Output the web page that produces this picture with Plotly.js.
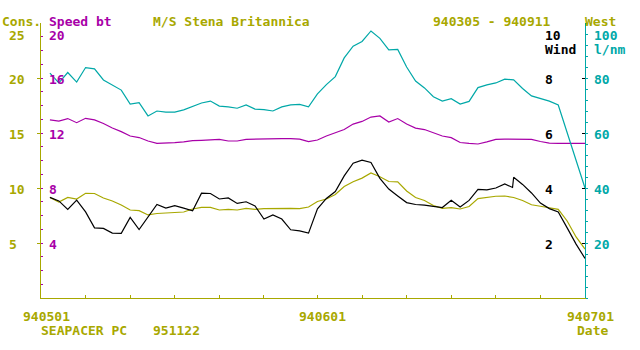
<!DOCTYPE html>
<html>
<head>
<meta charset="utf-8">
<script src="https://cdn.plot.ly/plotly-3.0.1.min.js"></script>
<style>html,body{margin:0;padding:0;background:#fff;}#chart{width:640px;height:350px;}</style>
</head>
<body>
<div id="chart"></div>
<script>
// ---- data ----
const dates = [
 '1994-05-02','1994-05-03','1994-05-04','1994-05-05','1994-05-06','1994-05-07','1994-05-08','1994-05-09','1994-05-10','1994-05-11',
 '1994-05-12','1994-05-13','1994-05-14','1994-05-15','1994-05-16','1994-05-17','1994-05-18','1994-05-19','1994-05-20','1994-05-21',
 '1994-05-22','1994-05-23','1994-05-24','1994-05-25','1994-05-26','1994-05-27','1994-05-28','1994-05-29','1994-05-30','1994-05-31',
 '1994-06-01','1994-06-02','1994-06-03','1994-06-04','1994-06-05','1994-06-06','1994-06-07','1994-06-08','1994-06-09','1994-06-10',
 '1994-06-11','1994-06-12','1994-06-13','1994-06-14','1994-06-15','1994-06-16','1994-06-17','1994-06-18','1994-06-19','1994-06-20',
 '1994-06-21','1994-06-22','1994-06-23','1994-06-24','1994-06-25','1994-06-26','1994-06-27','1994-06-28','1994-06-29','1994-06-30',
 '1994-07-01'];
// West l/nm (right, 0-100)
const westVals = [81.8,78.2,82,78.5,83.8,83.3,79.3,77.6,75.6,70.5,
 71,66.2,68,67.6,67.6,68.4,69.8,70.9,71.6,69.8,
 69.5,69,70.2,68.7,68.5,68,69.5,70.2,70.4,69.5,
 74.2,77.6,80.5,87.3,91.6,93.3,97.1,94.4,90.2,90.4,
 84,78.9,76.4,73.2,71.6,72.5,70.5,71.5,76.5,77.5,
 78.2,79.6,79.3,76.2,73.5,72.5,71.6,70.2,60,50.2,
 40];
// Speed bt (left inner, 0-20)
const speedVals = [12.95,12.87,13.05,12.75,13.07,12.95,12.69,12.36,12.1,11.78,
 11.67,11.42,11.25,11.25,11.3,11.35,11.45,11.47,11.5,11.53,
 11.42,11.42,11.54,11.56,11.59,11.59,11.59,11.59,11.56,11.38,
 11.49,11.78,12,12.25,12.65,12.84,13.16,13.24,12.8,13.05,
 12.65,12.36,12.25,12.02,11.78,11.66,11.31,11.24,11.2,11.35,
 11.53,11.56,11.56,11.56,11.53,11.38,11.27,11.25,11.25,11.25,
 11.25];
// Cons. (left, 0-25)
const consVals = [9.14,8.73,9.14,9,9.52,9.5,9.09,8.82,8.45,8,
 7.94,7.55,7.68,7.73,7.77,7.82,8.09,8.23,8.23,8,
 8.05,8,8.15,8.06,8.12,8.14,8.15,8.14,8.12,8.27,
 8.77,9,9.41,10.14,10.57,10.9,11.36,11.03,10.59,10.55,
 9.73,9.14,8.86,8.41,8.15,8.21,8.09,8.32,9.03,9.14,
 9.25,9.27,9.14,8.86,8.48,8.34,8.23,8.06,7,5.55,
 4.45];
// Wind (right inner, 0-10) - has one extra reading on 22 June evening
const windDates = dates.slice(0,52).concat(['1994-06-22 21:00'], dates.slice(52));
const windVals = [3.66,3.53,3.22,3.56,3.13,2.55,2.53,2.36,2.35,2.93,
 2.49,2.96,3.4,3.27,3.36,3.27,3.17,3.81,3.8,3.6,
 3.64,3.44,3.5,3.35,2.87,3.02,2.87,2.48,2.44,2.36,
 3.24,3.62,3.87,4.44,4.9,5.01,4.93,4.35,3.96,3.71,
 3.47,3.4,3.38,3.33,3.29,3.55,3.31,3.55,3.95,3.93,
 4,4.15,4.02,4.39,4.13,3.82,3.45,3.25,3.13,2.55,1.96,
 1.44];

const xTickVals = ['1994-05-01','1994-05-06','1994-05-11','1994-05-16','1994-05-21','1994-05-26',
 '1994-06-01','1994-06-06','1994-06-11','1994-06-16','1994-06-21','1994-06-26','1994-07-01'];
const xLabelDates = ['1994-05-01','1994-06-01','1994-07-01'];
const xLabelText = ['940501','940601','940701'];

const consTicks = [25,20,15,10,5];
const speedTicks = [20,16,12,8,4];
const windTicks = [10,8,6,4,2];
const westTicks = [100,80,60,40,20];

// ---- styles ----
const OLIVE = '#a8a800', MAG = '#a800a8', CYAN = '#00a8a8', BLACK = '#000000';
const FONT = 'DejaVu Sans Mono, Liberation Mono, monospace';
const L = 41, R = 585, T = 23, B = 298;
const px = x => (x - L) / (R - L);
const py = y => (B - y) / (B - T);

function txt(text, x, y, color) {
  return {text: text, xref: 'paper', yref: 'paper', x: px(x), y: py(y),
    xanchor: 'left', yanchor: 'middle', showarrow: false,
    font: {family: FONT, size: 13, color: color, weight: 'bold'}};
}
function axisLabels(vals, yref, x, color) {
  return vals.map((v, i) => ({text: String(v), xref: 'paper', yref: yref, x: px(x), y: v,
    xanchor: 'left', yanchor: 'middle', showarrow: false, yshift: i === 0 ? -12 : -1,
    font: {family: FONT, size: 13, color: color, weight: 'bold'}}));
}

const anns = [
  txt('Cons.', 0, 22, OLIVE),
  txt('Speed bt', 47, 22, MAG),
  txt('M/S Stena Britannica', 151, 22, OLIVE),
  txt('940305 - 940911', 431, 22, OLIVE),
  txt('West', 583, 22, OLIVE),
  txt('Wind', 543, 50, BLACK),
  txt('l/nm', 592, 50, CYAN),
  txt('SEAPACER PC', 39, 330, OLIVE),
  txt('951122', 151, 330, OLIVE),
  txt('Date', 575, 330, OLIVE)
].concat(
  axisLabels(consTicks, 'y', 7, OLIVE),
  axisLabels(speedTicks, 'y2', 47, MAG),
  axisLabels(windTicks, 'y3', 543, BLACK),
  axisLabels(westTicks, 'y4', 592, CYAN),
  xLabelDates.map((d, i) => ({text: xLabelText[i], xref: 'x', yref: 'paper', x: d, y: py(316),
    xanchor: 'center', yanchor: 'middle', xshift: 5, showarrow: false,
    font: {family: FONT, size: 13, color: OLIVE, weight: 'bold'}}))
);

const LW = 1.2;
const traces = [
  {x: dates, y: westVals, yaxis: 'y4', type: 'scatter', mode: 'lines', line: {color: CYAN, width: LW}, hoverinfo: 'skip'},
  {x: dates, y: speedVals, yaxis: 'y2', type: 'scatter', mode: 'lines', line: {color: MAG, width: LW}, hoverinfo: 'skip'},
  {x: dates, y: consVals, yaxis: 'y', type: 'scatter', mode: 'lines', line: {color: OLIVE, width: LW}, hoverinfo: 'skip'},
  {x: windDates, y: windVals, yaxis: 'y3', type: 'scatter', mode: 'lines', line: {color: BLACK, width: LW}, hoverinfo: 'skip'}
];

const layout = {
  width: 640, height: 350,
  margin: {l: L, r: 640 - R, t: T, b: 350 - B, pad: 0},
  paper_bgcolor: '#ffffff', plot_bgcolor: '#ffffff',
  showlegend: false,
  xaxis: {type: 'date', range: ['1994-05-01', '1994-07-01'], showgrid: false, zeroline: false,
    showline: true, linecolor: OLIVE, linewidth: 1,
    tickmode: 'array', tickvals: xTickVals, ticks: 'inside', ticklen: 3, tickcolor: OLIVE, tickwidth: 1,
    showticklabels: false},
  yaxis: {range: [0, 25], showgrid: false, zeroline: false, showline: true, linecolor: OLIVE, linewidth: 1,
    tickmode: 'array', tickvals: [5, 10, 15, 20], ticks: 'outside', ticklen: 3, tickcolor: OLIVE,
    showticklabels: false},
  yaxis2: {range: [0, 20], overlaying: 'y', side: 'left', anchor: 'x', showgrid: false, zeroline: false,
    showline: false, tickmode: 'linear', tick0: 0, dtick: 1, ticks: 'inside', ticklen: 2, tickcolor: MAG,
    showticklabels: false},
  yaxis3: {range: [0, 10], overlaying: 'y', side: 'right', anchor: 'x', showgrid: false, zeroline: false,
    showline: false, tickmode: 'array', tickvals: [2, 4, 6, 8], ticks: 'inside', ticklen: 3, tickcolor: BLACK,
    showticklabels: false},
  yaxis4: {range: [0, 100], overlaying: 'y', side: 'right', anchor: 'x', showgrid: false, zeroline: false,
    showline: true, linecolor: CYAN, linewidth: 1,
    tickmode: 'linear', tick0: 0, dtick: 4, ticks: 'outside', ticklen: 2, tickcolor: CYAN,
    showticklabels: false},
  annotations: anns
};

Plotly.newPlot('chart', traces, layout, {displayModeBar: false, staticPlot: true});
</script>
</body>
</html>
